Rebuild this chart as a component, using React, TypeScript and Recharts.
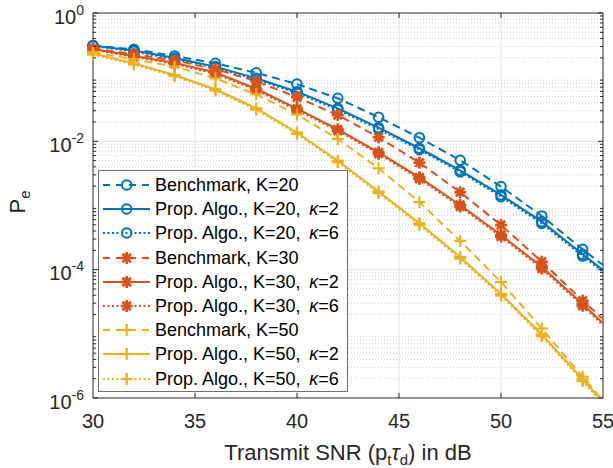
import React from 'react';
import {
  CartesianGrid,
  Line,
  LineChart,
  ReferenceArea,
  XAxis,
  YAxis,
} from 'recharts';

// SNR grid (dB); markers every 2 dB, lines run to 55
const snr = [30, 32, 34, 36, 38, 40, 42, 44, 46, 48, 50, 52, 54, 55];

// K = 20
const benchK20 = [0.31, 0.272, 0.214, 0.164, 0.117, 0.078, 0.0469, 0.0237, 0.0114, 0.00507, 0.00197, 0.000687, 0.000208, 0.000118];
const propK20k2 = [0.31, 0.26, 0.199, 0.146, 0.096, 0.0594, 0.0327, 0.0163, 0.0078, 0.00354, 0.00146, 0.00056, 0.000174, 0.0000989];
const propK20k6 = [0.305, 0.252, 0.192, 0.14, 0.092, 0.0565, 0.031, 0.0154, 0.0074, 0.00334, 0.00137, 0.000525, 0.000163, 0.0000925];

// K = 30
const benchK30 = [0.28, 0.228, 0.183, 0.133, 0.087, 0.0486, 0.0257, 0.01156, 0.00465, 0.00161, 0.000497, 0.000133, 0.0000329, 0.000017];
const propK30k2 = [0.275, 0.214, 0.167, 0.118, 0.066, 0.0323, 0.0154, 0.00675, 0.00275, 0.00102, 0.000347, 0.000111, 0.0000292, 0.0000146];
const propK30k6 = [0.27, 0.207, 0.161, 0.113, 0.0628, 0.0307, 0.0146, 0.0064, 0.0026, 0.000963, 0.000327, 0.000104, 0.0000274, 0.0000137];

// K = 50
const benchK50 = [0.245, 0.19, 0.146, 0.096, 0.054, 0.0262, 0.0109, 0.0038, 0.00113, 0.00028, 0.0000645, 0.0000121, 0.00000215, 0.00000091];
const propK50k2 = [0.235, 0.164, 0.108, 0.0647, 0.0327, 0.01373, 0.00498, 0.00165, 0.000528, 0.000158, 0.0000418, 0.00000977, 0.00000196, 0.00000087];
const propK50k6 = [0.225, 0.158, 0.104, 0.062, 0.0312, 0.0131, 0.00473, 0.00156, 0.000499, 0.000149, 0.0000394, 0.0000092, 0.00000184, 0.00000081];

const xTicks = [30, 35, 40, 45, 50, 55];
const yTicks = [1e-6, 1e-4, 1e-2, 1];
const yMinorTicks: number[] = [];
for (let k = -6; k < 0; k++) {
  for (let m = 2; m <= 9; m++) yMinorTicks.push(m * Math.pow(10, k));
}

const data = snr.map((s, i) => ({
  snr: s,
  b20: benchK20[i],
  p20a: propK20k2[i],
  p20b: propK20k6[i],
  b30: benchK30[i],
  p30a: propK30k2[i],
  p30b: propK30k6[i],
  b50: benchK50[i],
  p50a: propK50k2[i],
  p50b: propK50k6[i],
}));

const BLUE = '#0072BD';
const ORANGE = '#D95319';
const YELLOW = '#EDB120';
const AXIS = '#262626';
const DASH = '8 5';
const DOT = '2 2.5';

const series = [
  { key: 'b20', color: BLUE, dash: DASH, marker: 'o', label: 'Benchmark, K=20', kappa: null },
  { key: 'p20a', color: BLUE, dash: undefined, marker: 'o', label: 'Prop. Algo., K=20, ', kappa: '2' },
  { key: 'p20b', color: BLUE, dash: DOT, marker: 'o', label: 'Prop. Algo., K=20, ', kappa: '6' },
  { key: 'b30', color: ORANGE, dash: DASH, marker: '*', label: 'Benchmark, K=30', kappa: null },
  { key: 'p30a', color: ORANGE, dash: undefined, marker: '*', label: 'Prop. Algo., K=30, ', kappa: '2' },
  { key: 'p30b', color: ORANGE, dash: DOT, marker: '*', label: 'Prop. Algo., K=30, ', kappa: '6' },
  { key: 'b50', color: YELLOW, dash: DASH, marker: '+', label: 'Benchmark, K=50', kappa: null },
  { key: 'p50a', color: YELLOW, dash: undefined, marker: '+', label: 'Prop. Algo., K=50, ', kappa: '2' },
  { key: 'p50b', color: YELLOW, dash: DOT, marker: '+', label: 'Prop. Algo., K=50, ', kappa: '6' },
];

const PLOT = { left: 93, right: 603, top: 13, bottom: 398 };

const Marker = ({ kind, cx, cy, color }: any) => {
  if (kind === 'o') {
    return <circle cx={cx} cy={cy} r={4.8} fill='none' stroke={color} strokeWidth={2} />;
  }
  const h = 6;
  if (kind === '+') {
    return (
      <g stroke={color} strokeWidth={2.2}>
        <line x1={cx - h} x2={cx + h} y1={cy} y2={cy} />
        <line x1={cx} x2={cx} y1={cy - h} y2={cy + h} />
      </g>
    );
  }
  const d = 4.2;
  return (
    <g stroke={color} strokeWidth={2.7}>
      <line x1={cx - h} x2={cx + h} y1={cy} y2={cy} />
      <line x1={cx} x2={cx} y1={cy - h} y2={cy + h} />
      <line x1={cx - d} x2={cx + d} y1={cy - d} y2={cy + d} />
      <line x1={cx - d} x2={cx + d} y1={cy + d} y2={cy - d} />
    </g>
  );
};

const makeDot = (kind: string, color: string) => (props: any) => {
  const { cx, cy, index } = props;
  if (cx == null || cy == null || props.value == null) return <g key={`m-${index}`} />;
  return (
    <g key={`m-${index}`}>
      <Marker kind={kind} cx={cx} cy={cy} color={color} />
    </g>
  );
};

const XTick = (props: any) => {
  const { x, payload } = props;
  const v = payload.value;
  const inner = v > 30 && v < 55;
  return (
    <g>
      <text x={x} y={428} textAnchor='middle' fontSize={20} fill={AXIS}>
        {v}
      </text>
      {inner && (
        <g stroke={AXIS} strokeWidth={1}>
          <line x1={x} x2={x} y1={PLOT.bottom} y2={PLOT.bottom - 5} />
          <line x1={x} x2={x} y1={PLOT.top} y2={PLOT.top + 5} />
        </g>
      )}
    </g>
  );
};

const YTick = (props: any) => {
  const { y, payload } = props;
  const v = payload.value;
  const e = Math.log10(v);
  const major = Math.abs(e - Math.round(e)) < 1e-6;
  const len = major ? 5 : 3;
  return (
    <g>
      <g stroke={AXIS} strokeWidth={1}>
        <line x1={PLOT.left} x2={PLOT.left + len} y1={y} y2={y} />
        <line x1={PLOT.right} x2={PLOT.right - len} y1={y} y2={y} />
      </g>
      {major && (
        <text x={84} y={y + 10.5} textAnchor='end' fontSize={20} fill={AXIS}>
          <tspan>10</tspan>
          <tspan dy={-9} fontSize={14}>
            {String(Math.round(e))}
          </tspan>
        </text>
      )}
    </g>
  );
};

const XLabel = () => (
  <text x={348} y={460} textAnchor='middle' fontSize={22} fill={AXIS}>
    <tspan>Transmit SNR (p</tspan>
    <tspan dy={5} fontSize={15}>t</tspan>
    <tspan dy={-5} fontStyle='italic'>τ</tspan>
    <tspan dy={5} fontSize={15}>d</tspan>
    <tspan dy={-5}>) in dB</tspan>
  </text>
);

const YLabel = () => (
  <text
    x={25}
    y={202}
    transform='rotate(-90, 25, 202)'
    textAnchor='middle'
    fontSize={22}
    fill={AXIS}
  >
    <tspan>P</tspan>
    <tspan dy={5} fontSize={15}>e</tspan>
  </text>
);

const LegendBox = () => (
  <div
    style={{
      position: 'absolute',
      left: 98,
      top: 170,
      width: 250,
      height: 222,
      border: '1px solid #6e6e6e',
      background: '#fff',
      boxSizing: 'border-box',
    }}
  >
    {series.map((s, i) => (
      <div
        key={s.key}
        style={{
          position: 'absolute',
          left: 0,
          top: 2 + i * 24.2,
          height: 24,
          width: 248,
        }}
      >
        <svg width={56} height={24} style={{ position: 'absolute', left: 0, top: 0 }}>
          <line
            x1={4}
            x2={51}
            y1={12}
            y2={12}
            stroke={s.color}
            strokeWidth={2}
            strokeDasharray={s.dash === DASH ? '7 6' : s.dash}
          />
          <Marker kind={s.marker} cx={27.7} cy={12} color={s.color} />
        </svg>
        <span
          style={{
            position: 'absolute',
            left: 56,
            top: 0,
            lineHeight: '24px',
            fontSize: 18,
            color: '#000',
            whiteSpace: 'nowrap',
          }}
        >
          {s.label}
          {s.kappa && (
            <>
              {'\u2009'}
              <i>κ</i>={s.kappa}
            </>
          )}
        </span>
      </div>
    ))}
  </div>
);

// marker values: every 2 dB, none on the 55 dB end point
const markerValue = (key: string) => (row: any) => (row.snr > 54 ? null : row[key]);

export default function App() {
  return (
    <div
      style={{
        position: 'absolute',
        left: 0,
        top: 0,
        width: 613,
        height: 468,
        background: '#fff',
        fontFamily: "'Liberation Sans', Arial, Helvetica, sans-serif",
      }}
    >
      <LineChart
        width={613}
        height={468}
        data={data}
        margin={{ top: 13, right: 10, bottom: 40, left: 33 }}
      >
        <CartesianGrid
          horizontalValues={yMinorTicks}
          vertical={false}
          stroke='#cfcfcf'
          strokeDasharray='1 2'
        />
        <CartesianGrid
          horizontalValues={[1e-2, 1e-4]}
          verticalValues={[35, 40, 45, 50]}
          stroke='#e2e2e2'
        />
        <XAxis
          dataKey='snr'
          type='number'
          domain={[30, 55]}
          ticks={xTicks}
          interval={0}
          height={30}
          tickLine={false}
          axisLine={false}
          tick={<XTick />}
          label={{ content: () => <XLabel /> }}
        />
        <YAxis
          type='number'
          scale='log'
          domain={[1e-6, 1]}
          allowDataOverflow
          ticks={[...yTicks, ...yMinorTicks]}
          interval={0}
          width={60}
          tickLine={false}
          axisLine={false}
          tick={<YTick />}
          label={{ content: () => <YLabel /> }}
        />
        <YAxis yAxisId='marks' type='number' scale='log' domain={[1e-6, 1]} hide />
        {series.map((s) => (
          <Line
            key={s.key}
            type='linear'
            dataKey={s.key}
            stroke={s.color}
            strokeWidth={2}
            strokeDasharray={s.dash}
            dot={false}
            activeDot={false}
            isAnimationActive={false}
            legendType='none'
          />
        ))}
        {series.map((s) => (
          <Line
            key={`${s.key}-m`}
            yAxisId='marks'
            type='linear'
            dataKey={markerValue(s.key)}
            stroke='none'
            dot={makeDot(s.marker, s.color)}
            activeDot={false}
            isAnimationActive={false}
            legendType='none'
          />
        ))}
        <ReferenceArea
          x1={30}
          x2={55}
          y1={1e-6}
          y2={1}
          fill='none'
          stroke={AXIS}
          strokeWidth={1}
          ifOverflow='visible'
        />
      </LineChart>
      <LegendBox />
    </div>
  );
}
